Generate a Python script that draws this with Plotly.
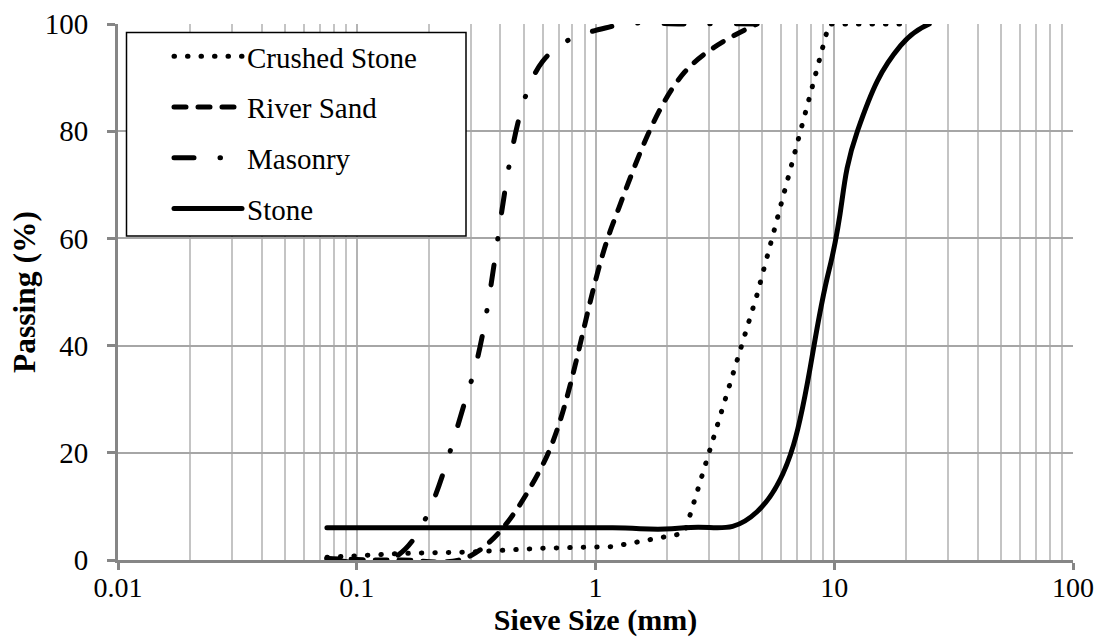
import plotly.graph_objects as go

# Sieve sizes (mm) and cumulative percent passing for each material
crushed_sizes = [0.075, 0.15, 0.3, 0.6, 1.18, 2.36, 4.75, 9.5, 12.5, 19]
crushed_pass = [0.5, 1.2, 1.5, 2.2, 2.5, 5.0, 49.5, 100, 100, 100]

river_sizes = [0.075, 0.15, 0.3, 0.6, 1.18, 2.36, 4.75]
river_pass = [0.3, 0.0, 0.8, 17.7, 62.6, 91.0, 100]

masonry_sizes = [0.075, 0.15, 0.3, 0.6, 1.18, 2.36, 4.75]
masonry_pass = [0.3, 1.0, 33.0, 93.0, 99.6, 100, 100]

stone_sizes = [0.075, 0.15, 0.3, 0.6, 1.18, 2.36, 4.75, 9.5, 12.5, 19, 25]
stone_pass = [6, 6, 6, 6, 6, 6, 9, 54, 80, 96, 100]

x_ticks = [0.01, 0.1, 1, 10, 100]
x_tick_labels = ["0.01", "0.1", "1", "10", "100"]
y_ticks = [0, 20, 40, 60, 80, 100]

FONT = "Liberation Serif, serif"
LW = 5

minor_vals = [m * d for d in (0.01, 0.1, 1, 10) for m in range(2, 10)]

series = [
    ("Crushed Stone", crushed_sizes, crushed_pass, "0.5px,13px", "linear", 1),
    ("River Sand", river_sizes, river_pass, "12px,12px", "spline", 1),
    ("Masonry", masonry_sizes, masonry_pass, "20px,26px,0.5px,26px", "spline", 1),
    ("Stone", stone_sizes, stone_pass, "solid", "spline", 1.3),
]

fig = go.Figure()
for name, xs, ys, dash, shape, smooth in series:
    fig.add_trace(go.Scatter(
        x=xs, y=ys, name=name, mode="lines", legendgroup=name,
        line=dict(color="black", width=LW, dash=dash, shape=shape, smoothing=smooth),
    ))

# framed white box behind the legend entries
x_frac = lambda px: (px - 118) / 955
y_frac = lambda py: (560 - py) / 536
fig.add_shape(type="rect", xref="paper", yref="paper",
              x0=x_frac(126.5), x1=x_frac(466), y0=y_frac(236), y1=y_frac(32.5),
              line=dict(color="black", width=1.5), fillcolor="white", layer="above")

fig.update_layout(
    width=1099, height=637,
    margin=dict(l=118, r=26, t=24, b=77, autoexpand=False),
    paper_bgcolor="white", plot_bgcolor="white",
    font=dict(family=FONT, size=29, color="black"),
    showlegend=True,
    legend=dict(
        x=x_frac(127), y=y_frac(31), xanchor="left", yanchor="top",
        bgcolor="rgba(0,0,0,0)", borderwidth=0,
        font=dict(family=FONT, size=29, color="black"),
        itemwidth=68, indentation=42, tracegroupgap=10,
    ),
    xaxis=dict(
        type="log", range=[-2, 2], automargin=False,
        tickmode="array", tickvals=x_ticks, ticktext=x_tick_labels,
        tickfont=dict(family=FONT, size=28, color="black"),
        ticks="outside", ticklen=7, tickwidth=3, tickcolor="#868686",
        ticklabelstandoff=-7,
        showgrid=True, gridcolor="#b4b4b4", gridwidth=1.5,
        showline=True, linecolor="#868686", linewidth=3,
        minor=dict(tickmode="array", tickvals=minor_vals, showgrid=True,
                   gridcolor="#c4c4c4", gridwidth=1.5, ticks=""),
        zeroline=False,
        title=dict(text="<b>Sieve Size (mm)</b>", font=dict(family=FONT, size=30), standoff=5),
    ),
    yaxis=dict(
        range=[0, 100], automargin=False, tickmode="array", tickvals=y_ticks,
        tickfont=dict(family=FONT, size=29, color="black"),
        ticks="outside", ticklen=8, tickwidth=3, tickcolor="#868686",
        ticklabelstandoff=13,
        showgrid=True, gridcolor="#a6a6a6", gridwidth=1.5,
        showline=True, linecolor="#868686", linewidth=3,
        zeroline=False,
        title=dict(text="<b>Passing (%)</b>", font=dict(family=FONT, size=31.5), standoff=0),
    ),
)

round_caps = (
    "var s=document.createElement('style');"
    "s.textContent='.js-line{stroke-linecap:round;stroke-linejoin:round}';"
    "document.head.appendChild(s);"
)
fig.write_html("out.html", post_script=round_caps)
